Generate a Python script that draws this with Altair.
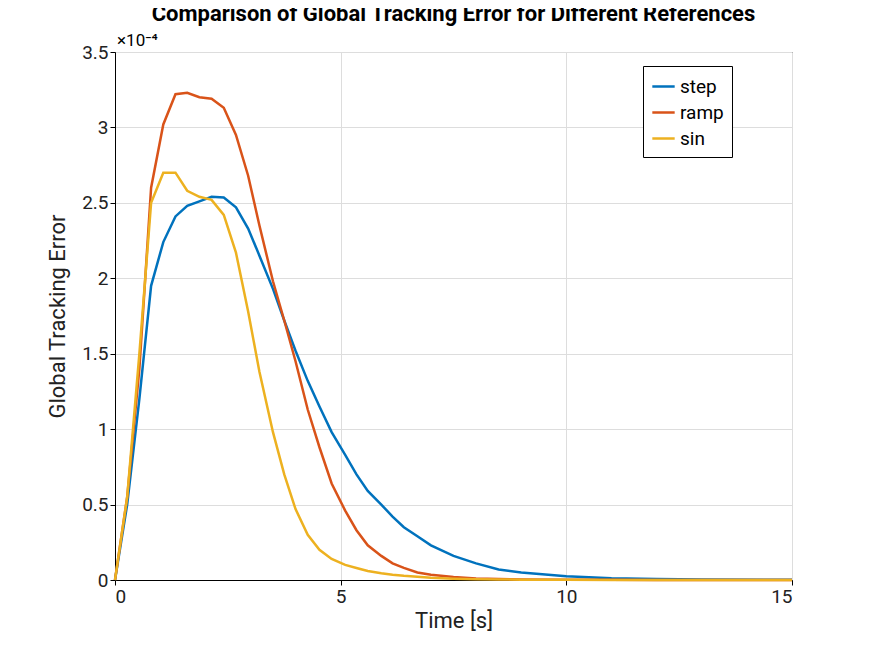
import altair as alt
import pandas as pd

t = [0,0.27,0.54,0.8,1.07,1.34,1.6,1.87,2.14,2.41,2.68,2.95,3.2,3.5,3.75,4.0,4.27,4.53,4.8,5.1,5.35,5.6,5.9,6.15,6.4,6.7,7.0,7.5,8.0,8.5,9.0,10.0,11.0,12.0,13.0,15.0]
step = [0,0.5,1.2,1.95,2.24,2.41,2.48,2.51,2.54,2.535,2.47,2.33,2.15,1.93,1.72,1.52,1.32,1.15,0.98,0.83,0.7,0.59,0.5,0.42,0.35,0.29,0.23,0.16,0.11,0.07,0.05,0.025,0.012,0.006,0.003,0.001]
ramp = [0,0.55,1.4,2.6,3.02,3.22,3.23,3.2,3.19,3.13,2.95,2.68,2.35,1.98,1.72,1.45,1.13,0.88,0.64,0.46,0.33,0.23,0.16,0.11,0.08,0.05,0.035,0.02,0.01,0.006,0.004,0.002,0.001,0.0005,0.0002,0]
sin = [0,0.55,1.5,2.5,2.7,2.7,2.58,2.54,2.52,2.42,2.17,1.78,1.38,0.98,0.7,0.47,0.3,0.2,0.14,0.1,0.08,0.06,0.045,0.035,0.028,0.022,0.015,0.009,0.005,0.003,0.002,0.001,0.0005,0.0002,0.0001,0]

rows = []
for name, ys in [("step", step), ("ramp", ramp), ("sin", sin)]:
    for a, b in zip(t, ys):
        rows.append({"t": a, "v": b, "s": name})
df = pd.DataFrame(rows)

F = "Roboto"
lines = alt.Chart(df).mark_line(strokeWidth=2.5).encode(
    x=alt.X("t:Q", scale=alt.Scale(domain=[0, 15], nice=False),
            axis=alt.Axis(title="Time [s]", values=[0, 5, 10, 15], format="d")),
    y=alt.Y("v:Q", scale=alt.Scale(domain=[0, 3.5], nice=False),
            axis=alt.Axis(title="Global Tracking Error", values=[0,0.5,1,1.5,2,2.5,3,3.5], format="~g")),
    color=alt.Color("s:N", sort=["step", "ramp", "sin"],
                    scale=alt.Scale(domain=["step", "ramp", "sin"], range=["#0072BD", "#D95319", "#EDB120"]),
                    legend=alt.Legend(title=None, orient="none", legendX=528, legendY=14,
                                      symbolType="stroke", symbolStrokeWidth=2.5, symbolSize=500,
                                      labelFontSize=19, labelFont=F, strokeColor="black", fillColor="white",
                                      padding=8, rowPadding=3)),
)
exp = alt.Chart(pd.DataFrame({"x": [0]})).mark_text(text="×10⁻⁴", align="left", baseline="bottom",
                                                     fontSize=17, font=F, dx=2, dy=-2).encode(
    x=alt.value(0), y=alt.value(0))

chart = alt.layer(lines, exp).properties(
    width=677, height=528, autosize="none",
    padding={"left": 107, "top": 44, "right": 75, "bottom": 70},
    title=alt.TitleParams("Comparison of Global Tracking Error for Different References",
                          fontSize=22, font=F, fontWeight="bold", offset=6),
).configure_axis(
    labelFont=F, labelFontSize=19, titleFont=F, titleFontSize=22, titleFontWeight="normal",
    gridColor="#dddddd", domainColor="black", tickColor="black", labelColor="#222", titleColor="#222",
).configure_view(stroke="black", strokeWidth=1).configure_axisY(titlePadding=12)

chart.save("out.html", embed_options={"renderer": "svg", "actions": False})
